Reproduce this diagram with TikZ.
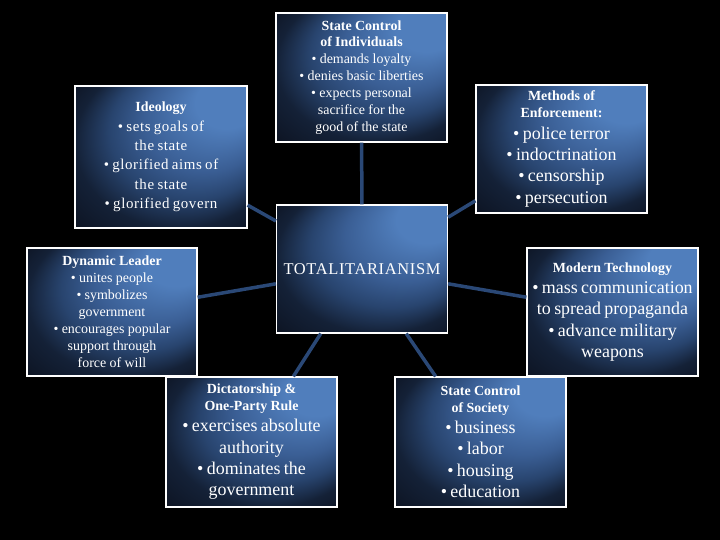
\documentclass[tikz,border=0pt]{standalone}
\usepackage{fontspec}
\setmainfont{Liberation Serif}
\usepackage{tikz}
\usetikzlibrary{positioning}
\usepackage{xcolor}
\definecolor{panellight}{RGB}{80, 126, 188}
\definecolor{panelsoft}{RGB}{58, 94, 148}
\definecolor{panelmid}{RGB}{40, 68, 110}
\definecolor{paneldark}{RGB}{20, 33, 55}
\definecolor{paneldeep}{RGB}{14, 22, 38}
\definecolor{panelblack}{RGB}{8, 12, 20}
\definecolor{linkblue}{RGB}{42, 72, 118}
\pgfdeclareradialshading{panelglow}{\pgfpoint{25bp}{25bp}}{%
  color(0bp)=(panellight); color(9bp)=(panellight);
  color(18bp)=(panelsoft); color(24bp)=(panelmid);
  color(30bp)=(paneldark); color(35.5bp)=(paneldeep);
  color(37.5bp)=(panelblack)}
\newcommand{\panelhead}{\bfseries\fontsize{14}{17}\selectfont}
\newcommand{\panelsmall}{\fontsize{14}{17}\selectfont}
\newcommand{\panelbig}{\fontsize{18}{21.5}\selectfont}

\begin{document}
\begin{tikzpicture}[x=1bp, y=-1bp,
    panel/.style={draw=white, line width=1.2bp, shading=panelglow,
      inner sep=0pt, text=white, align=center, text width=168bp,
      minimum width=171bp, minimum height=128bp},
    link/.style={draw=linkblue, line width=3.5bp}]
  \fill[black] (0,0) rectangle (720,540);
  \useasboundingbox (0,0) rectangle (720,540);
  %---- centre ---------------------------------------------------------------
  \node[panel] (hub) at (362,269)
    {\fontsize{16.5}{20}\selectfont\addfontfeature{LetterSpace=4}TOTALITARIANISM};
  %---- upper row ------------------------------------------------------------
  \node[panel, minimum height=129bp] (individuals) at (361.5,77.5)
    {{\panelhead State Control\\ of Individuals\par}
     {\panelsmall • demands loyalty\\ • denies basic liberties\\
      • expects personal\\ sacrifice for the\\ good of the state\par}};
  \node[panel, minimum width=172bp, minimum height=142bp] (ideology) at (161,157)
    {{\panelhead Ideology\par}
     {\fontsize{15}{19.5}\selectfont\addfontfeature{LetterSpace=4}%
      • sets goals of\\ the state\\ • glorified aims of\\ the state\\
      • glorified govern\par}};
  \node[panel] (enforcement) at (561.5,149)
    {{\panelhead Methods of\\ Enforcement:\par}
     {\panelbig • police terror\\ • indoctrination\\ • censorship\\
      • persecution\par}};
  %---- middle row -----------------------------------------------------------
  \node[panel, minimum width=170bp] (leader) at (112,312)
    {{\panelhead Dynamic Leader\par}
     {\panelsmall • unites people\\ • symbolizes\\ government\\
      • encourages popular\\ support through\\ force of will\par}};
  \node[panel] (technology) at (612.5,312)
    {{\panelhead Modern Technology\par}
     {\panelbig • mass communication\\ to spread propaganda\\
      • advance military\\ weapons\par}};
  %---- lower row ------------------------------------------------------------
  \node[panel, minimum height=130bp] (dictatorship) at (251.5,442)
    {{\bfseries\fontsize{14}{16.5}\selectfont Dictatorship \&\\ One-Party Rule\par}
     {\panelbig • exercises absolute\\ authority\\ • dominates the\\
      government\par}};
  \node[panel, minimum height=130bp] (society) at (480.5,442)
    {{\bfseries\fontsize{14}{16.5}\selectfont State Control\\ of Society\par}
     {\panelbig • business\\ • labor\\ • housing\\ • education\par}};
  %---- links ----------------------------------------------------------------
  \foreach \target in {individuals, ideology, enforcement, leader,
                       technology, dictatorship, society}
    \draw[link] (hub) -- (\target);
\end{tikzpicture}
\end{document}
